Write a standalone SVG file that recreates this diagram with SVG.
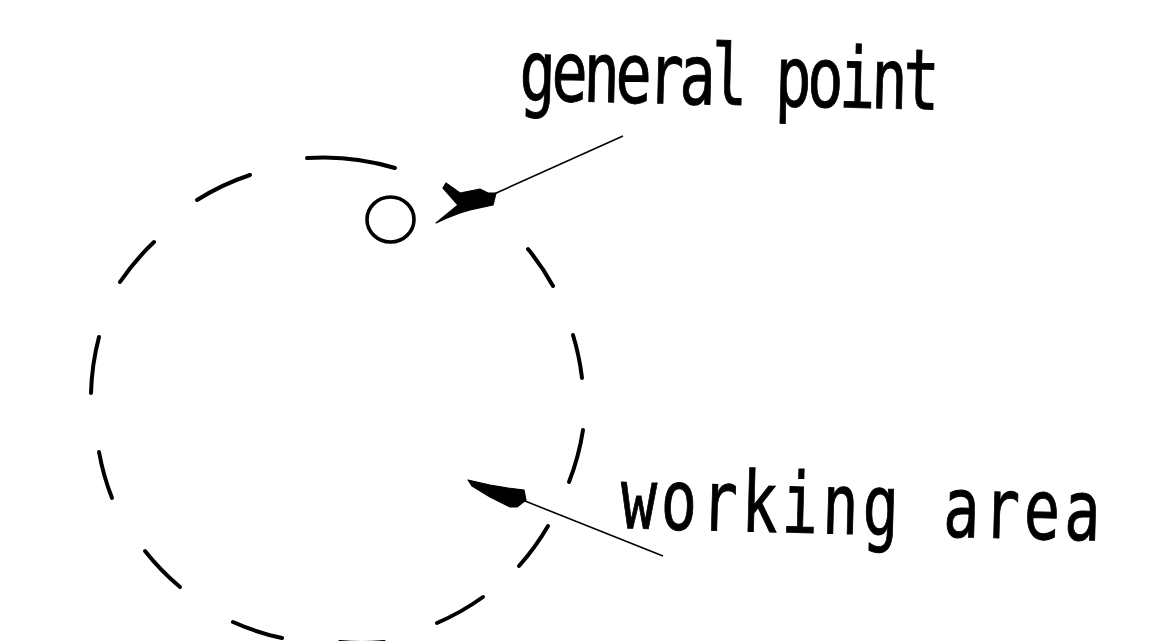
<svg xmlns="http://www.w3.org/2000/svg" width="1157" height="641" viewBox="0 0 1157 641">
  <style>
    .dash { fill: none; stroke: #000; stroke-width: 4; stroke-linecap: round; }
    .pt { fill: none; stroke: #000; stroke-width: 3.6; }
    .leader { fill: none; stroke: #000; stroke-width: 1.6; }
    .head { fill: #000; stroke: #000; stroke-width: 1.2; stroke-linejoin: round; }
    .lbl { font-family: "DejaVu Sans Mono", "Liberation Mono", monospace; font-size: 60px; fill: #000; stroke: #000; stroke-width: 0.7; }
  </style>
  <rect width="1157" height="641" fill="#fff"/>
  <g id="working-area-node">
    <path class="dash" d="M307,158 A245,245 0 0 1 395,168"/>
    <path class="dash" d="M528,249 A245,245 0 0 1 553,286"/>
    <path class="dash" d="M573,335 A245,245 0 0 1 582,378"/>
    <path class="dash" d="M583,430 A245,245 0 0 1 569,482"/>
    <path class="dash" d="M548,526 A245,245 0 0 1 519,566"/>
    <path class="dash" d="M483,597 A245,245 0 0 1 437,623"/>
    <path class="dash" d="M384,642 A245,245 0 0 1 340,642"/>
    <path class="dash" d="M282,638 A245,245 0 0 1 233,622"/>
    <path class="dash" d="M180,587 A245,245 0 0 1 145,551"/>
    <path class="dash" d="M112,498 A245,245 0 0 1 99,452"/>
    <path class="dash" d="M91,393 A245,245 0 0 1 99,337"/>
    <path class="dash" d="M120,282 A245,245 0 0 1 154,242"/>
    <path class="dash" d="M197,200 A245,245 0 0 1 250,175"/>
  </g>
  <g id="general-point-node">
    <ellipse class="pt" cx="390.5" cy="219.5" rx="23.5" ry="22.5"/>
  </g>
  <g id="connectors">
    <g id="leader-general-point">
      <line class="leader" x1="494" y1="194" x2="623" y2="136"/>
      <polygon class="head" points="436,223 458,205 443,188 446,183 460,193 480,189 488,193 496,193 493,205 470,210 460,213 447,218"/>
    </g>
    <g id="leader-working-area">
      <line class="leader" x1="525" y1="501" x2="663" y2="556"/>
      <polygon class="head" points="468,480 490,485 508,488 524,490 526,500 517,507 510,507 490,497 472,486"/>
    </g>
  </g>
  <g id="label-general-point">
    <text class="lbl" transform="translate(519,100) rotate(1.3) scale(1,1.4)" textLength="420" lengthAdjust="spacing">general point</text>
  </g>
  <g id="label-working-area">
    <text class="lbl" transform="translate(620,528) rotate(1.5) scale(1,1.4)" textLength="480" lengthAdjust="spacing">working area</text>
  </g>
</svg>
